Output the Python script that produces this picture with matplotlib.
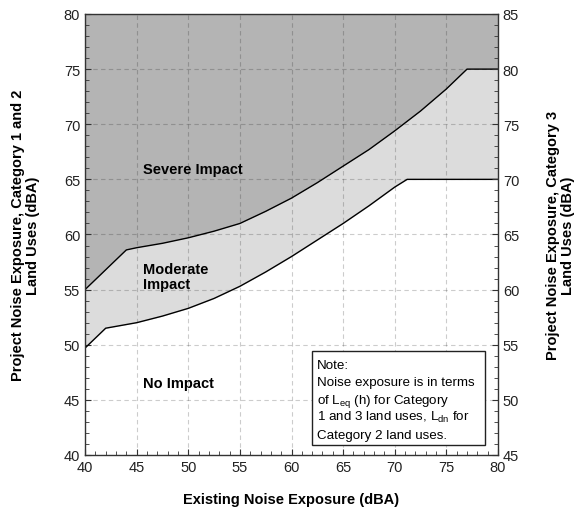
import matplotlib
matplotlib.use("Agg")
import matplotlib.pyplot as plt
from matplotlib.ticker import MultipleLocator
from matplotlib.patches import Rectangle

plt.rcParams['font.family'] = ['Liberation Sans', 'DejaVu Sans']
plt.rcParams['mathtext.fontset'] = 'custom'
plt.rcParams['mathtext.rm'] = 'Liberation Sans'

# existing noise exposure (dBA) and the two impact thresholds
severe_x = [40, 44, 45, 47.5, 50, 52.5, 55, 57.5, 60, 62.5, 65, 67.5, 70, 72.5, 75, 77, 80]
severe_y = [55.0, 58.6, 58.8, 59.2, 59.7, 60.3, 61.0, 62.1, 63.3, 64.7, 66.2, 67.7, 69.4, 71.2, 73.2, 75.0, 75.0]
moderate_x = [40, 42, 45, 47.5, 50, 52.5, 55, 57.5, 60, 62.5, 65, 67.5, 70, 71.2, 80]
moderate_y = [49.7, 51.5, 52.0, 52.6, 53.3, 54.2, 55.3, 56.6, 58.0, 59.5, 61.0, 62.6, 64.3, 65.0, 65.0]

note_lines = ['Note:',
              'Noise exposure is in terms',
              'of L$_{\\mathrm{eq}}$ (h) for Category',
              '1 and 3 land uses, L$_{\\mathrm{dn}}$ for',
              'Category 2 land uses.']

fig = plt.figure(figsize=(5.8, 5.1), dpi=100)
ax = fig.add_axes([0.1466, 0.1059, 0.712, 0.8647])

# severe region above the upper curve, moderate band between, white below
ax.fill_between(severe_x, severe_y, 80, color='#b4b4b4', lw=0, zorder=1)
ax.fill_between(severe_x, 40, severe_y, color='#dcdcdc', lw=0, zorder=1)
ax.fill_between(moderate_x, 40, moderate_y, color='white', lw=0, zorder=1)
ax.plot(severe_x, severe_y, color='black', lw=1.0, zorder=3)
ax.plot(moderate_x, moderate_y, color='black', lw=1.0, zorder=3)

ax.set_xlim(40, 80)
ax.set_ylim(40, 80)
ax.xaxis.set_major_locator(MultipleLocator(5))
ax.xaxis.set_minor_locator(MultipleLocator(1))
ax.yaxis.set_major_locator(MultipleLocator(5))
ax.yaxis.set_minor_locator(MultipleLocator(1))
ax.tick_params(which='both', direction='in', labelsize=10.5, color='#333333', labelcolor='#222222')
ax.tick_params(which='major', length=4)
ax.tick_params(which='minor', length=3)
ax.grid(True, which='major', color='black', alpha=0.2, ls=(0, (4, 3)), lw=0.8, zorder=2)
ax.set_axisbelow(False)
for s in ax.spines.values():
    s.set_linewidth(1.0)
    s.set_color('#333333')
    s.set_zorder(4)

ax.set_xlabel('Existing Noise Exposure (dBA)', fontsize=10.5, fontweight='bold', labelpad=13)
ax.set_ylabel('Project Noise Exposure, Category 1 and 2\nLand Uses (dBA)',
              fontsize=10.5, fontweight='bold', labelpad=17, linespacing=1.1)

ax2 = ax.twinx()
ax2.set_ylim(45, 85)
ax2.yaxis.set_major_locator(MultipleLocator(5))
ax2.yaxis.set_minor_locator(MultipleLocator(1))
ax2.tick_params(which='both', direction='in', labelsize=10.5, color='#333333', labelcolor='#222222')
ax2.tick_params(which='major', length=4)
ax2.tick_params(which='minor', length=3)
ax2.set_ylabel('Project Noise Exposure, Category 3\nLand Uses (dBA)',
               fontsize=10.5, fontweight='bold', labelpad=19, linespacing=1.1)
for s in ax2.spines.values():
    s.set_visible(False)

ax.text(45.6, 65.9, 'Severe Impact', fontsize=10.5, fontweight='bold', va='center', zorder=5)
ax.text(45.6, 56.2, 'Moderate\nImpact', fontsize=10.5, fontweight='bold', va='center',
        linespacing=1.1, zorder=5)
ax.text(45.6, 46.5, 'No Impact', fontsize=10.5, fontweight='bold', va='center', zorder=5)

ax.add_patch(Rectangle((62.0, 40.9), 16.7, 8.5, facecolor='white', edgecolor='#222222',
                       lw=1.0, zorder=5))
for i, line in enumerate(note_lines):
    ax.text(62.5, 47.9 - 1.58 * i, line, fontsize=9.6, va='baseline', ha='left', zorder=6)

fig.savefig('out.png', dpi=100)
